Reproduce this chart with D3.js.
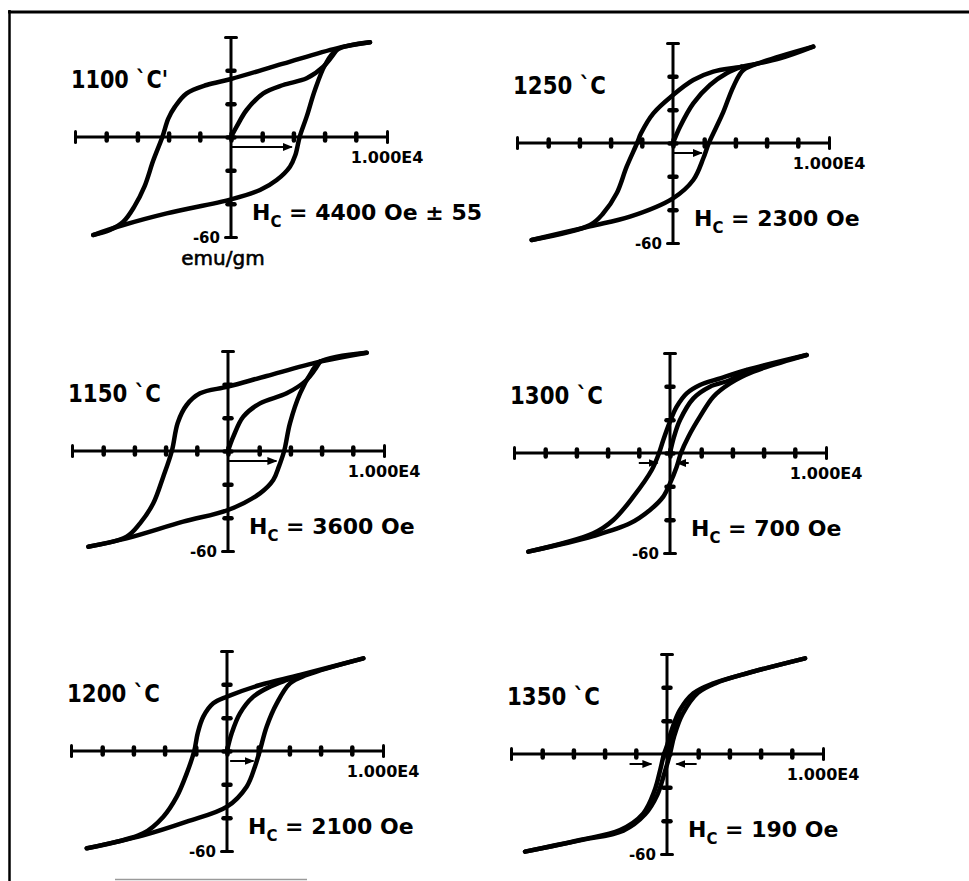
<!DOCTYPE html>
<html>
<head>
<meta charset="utf-8">
<script src="https://cdn.jsdelivr.net/npm/d3@7"></script>
<style>
  html, body { margin: 0; padding: 0; background: #fff; }
  svg { display: block; }
  text { font-family: "DejaVu Sans", sans-serif; font-weight: bold; fill: #000; }
</style>
</head>
<body>
<svg id="chart" width="969" height="881"></svg>
<script>
// Annealing temperatures and the coercive field measured at each one
const temperatures = [1100, 1150, 1200, 1250, 1300, 1350];
const temperatureLabels = ["1100 `C'", "1150 `C", "1200 `C", "1250 `C", "1300 `C", "1350 `C"];
const coercivityOe = [4400, 3600, 2100, 2300, 700, 190];
const coercivityNote = [" ± 55", "", "", "", "", ""];

// Axis ticks: applied field H (Oe) and magnetisation M (emu/gm)
const fieldTicks = [-10000, -8000, -6000, -4000, -2000, 0, 2000, 4000, 6000, 8000, 10000];
const momentTicks = [-60, -40, -20, 0, 20, 40, 60];
const fieldEndLabel = "1.000E4";
const momentEndLabel = "-60";
const momentUnit = "emu/gm";

// Hysteresis branches as [H (Oe), M (emu/gm)]:
// descending branch (+Hmax -> -Hmax), ascending branch (-Hmax -> +Hmax), virgin curve from the origin
const down1100 = [[8910, 56.8], [6770, 53.2], [3350, 44], [0, 34.8], [-1560, 31.2], [-2840, 26.2], [-3590, 18.2], [-4020, 11], [-4400, 0], [-4980, -14], [-5550, -29.8], [-6200, -41.8], [-6900, -50.8], [-7760, -55.8], [-8830, -58.8]];
const up1100 = [[-8830, -58.8], [-6900, -52.8], [-4120, -45.8], [0, -37.4], [1860, -31.8], [2930, -25.8], [3780, -17.8], [4120, -11], [4400, 0], [4850, 12.2], [5380, 28.2], [6030, 43.2], [6770, 52.2], [8910, 56.8]];
const virgin1100 = [[0, 0], [360, 6.2], [1000, 16.2], [2070, 26.2], [3350, 31.2], [4850, 35.2], [5920, 42.2], [6770, 52.2]];

const down1150 = [[8890, 59], [5900, 53.6], [2480, 45], [0, 38.6], [-1790, 34.6], [-2650, 27.6], [-3220, 17], [-3600, 0], [-4150, -15.4], [-4790, -31.4], [-5640, -43.4], [-6500, -51.4], [-8950, -57.4]];
const up1150 = [[-8950, -57.4], [-6500, -52.4], [-2870, -42.4], [0, -35.4], [2050, -25.4], [2900, -17.4], [3260, -9.4], [3600, 0], [3970, 16.6], [4620, 34.6], [5370, 47.6], [5900, 53.6], [8890, 59]];
const virgin1150 = [[0, 0], [340, 8.6], [980, 20.6], [2050, 28.6], [3760, 34.6], [5040, 42.6], [5900, 53.6]];

const down1200 = [[8740, 55.6], [4680, 45.6], [2120, 39.6], [0, 32.6], [-880, 28.6], [-1520, 20.6], [-1880, 10.6], [-2100, 0], [-2580, -13.4], [-3220, -27.4], [-4080, -39.4], [-5370, -49.4], [-8990, -58.4]];
const up1200 = [[-8990, -58.4], [-5370, -50.6], [-2580, -42.4], [0, -33.4], [1260, -21.4], [1790, -9.4], [2100, 0], [2540, 14.6], [3190, 28.6], [4040, 40.6], [5110, 45.6], [8740, 55.6]];
const virgin1200 = [[0, 0], [300, 10.6], [830, 22.6], [1690, 32.6], [2760, 38.6], [3830, 42.6], [4680, 45.4]];

const down1250 = [[8990, 57.8], [6860, 50.8], [4400, 45.8], [2580, 42.8], [1300, 37.8], [0, 28.8], [-1260, 17.8], [-2050, 5.8], [-2300, 0], [-2970, -14.2], [-3610, -30.2], [-4470, -42.2], [-5320, -49.2], [-9060, -58.2]];
const up1250 = [[-9060, -58.2], [-5320, -50], [-2760, -44.2], [0, -33.2], [1300, -22.2], [1950, -9], [2300, 0], [2750, 9], [3220, 18.5], [3870, 33.8], [4510, 43.8], [5790, 48.8], [8990, 57.8]];
const virgin1250 = [[0, 0], [450, 9.8], [1300, 23.8], [2370, 34.8], [3440, 41.8], [4400, 45.8]];

const down1300 = [[8760, 58.8], [4910, 49.8], [3210, 44.8], [1920, 40.8], [1070, 35.8], [430, 27.8], [0, 18.8], [-430, 7.8], [-700, 0], [-1170, -10.2], [-2350, -26.2], [-3630, -40.2], [-4920, -48.2], [-9080, -59.2]];
const up1300 = [[-9080, -59.2], [-4920, -49.8], [-2560, -42.2], [-1280, -34.2], [-430, -26.2], [0, -18.2], [430, -8.2], [700, 0], [1180, 9.8], [1920, 21.8], [2780, 33.8], [3850, 41.8], [5340, 48.8], [8760, 58.8]];
const virgin1300 = [[0, 0], [260, 9.8], [640, 19.8], [1500, 32.8], [2560, 39.8], [3850, 43.8], [4910, 49.8]];

const down1350 = [[8850, 57.4], [5110, 48.4], [2970, 42.4], [1690, 36.4], [830, 26.4], [300, 14.4], [0, 5], [-190, 0], [-420, -9], [-800, -22], [-1520, -35.6], [-3010, -45.6], [-5580, -51.6], [-9100, -58.6]];
const up1350 = [[-9100, -58.6], [-5580, -51.8], [-2800, -46], [-1400, -36.2], [-620, -24.5], [-150, -11], [190, 0], [470, 11], [1000, 24], [2000, 36.8], [3100, 42.4], [5200, 48.6], [8850, 57.4]];
const virgin1350 = [[0, 0], [150, 7], [400, 15], [800, 23.5]];

// Coercivity markers drawn just under the field axis: [from H, to H] per arrow
const markers1100 = [[0, 3900]];
const markers1150 = [[0, 3100]];
const markers1200 = [[200, 1700]];
const markers1250 = [[0, 1850]];
const markers1300 = [[-2000, -800], [1200, 450]];
const markers1350 = [[-2400, -1000], [1900, 600]];

const loops = [
  { down: down1100, up: up1100, virgin: virgin1100, markers: markers1100 },
  { down: down1150, up: up1150, virgin: virgin1150, markers: markers1150 },
  { down: down1200, up: up1200, virgin: virgin1200, markers: markers1200 },
  { down: down1250, up: up1250, virgin: virgin1250, markers: markers1250 },
  { down: down1300, up: up1300, virgin: virgin1300, markers: markers1300 },
  { down: down1350, up: up1350, virgin: virgin1350, markers: markers1350 }
];

// Page layout: origin of each small plot (left column, then right column)
const origins = [[231, 137], [228, 451], [227, 751], [673, 143], [670, 453], [667, 754]];
const halfW = 156, halfH = 100;

const svg = d3.select("#chart");

// Frame lines
svg.append("line").attr("x1", 9.5).attr("y1", 10).attr("x2", 9.5).attr("y2", 881)
  .attr("stroke", "#000").attr("stroke-width", 2.5);
svg.append("line").attr("x1", 8).attr("y1", 12).attr("x2", 969).attr("y2", 12)
  .attr("stroke", "#000").attr("stroke-width", 3);
svg.append("line").attr("x1", 115).attr("y1", 879.5).attr("x2", 307).attr("y2", 879.5)
  .attr("stroke", "#9a9a9a").attr("stroke-width", 1.5);

// Arrowhead marker
svg.append("defs").append("marker")
  .attr("id", "arrow").attr("viewBox", "0 0 10 8").attr("refX", 9).attr("refY", 4)
  .attr("markerWidth", 10).attr("markerHeight", 8).attr("markerUnits", "userSpaceOnUse")
  .attr("orient", "auto")
  .append("path").attr("d", "M0,0 L10,4 L0,8 Z").attr("fill", "#000");

temperatures.forEach((t, i) => {
  const [cx, cy] = origins[i];
  const x = d3.scaleLinear().domain([-10000, 10000]).range([cx - halfW, cx + halfW]);
  const y = d3.scaleLinear().domain([-60, 60]).range([cy + halfH, cy - halfH]);
  const g = svg.append("g");

  // Field axis through M = 0
  const xAxis = d3.axisBottom(x).tickValues(fieldTicks).tickFormat("").tickSizeOuter(0);
  const gx = g.append("g").attr("transform", `translate(0,${y(0)})`).call(xAxis);
  gx.select(".domain").attr("stroke-width", 3).attr("d", `M${x(-10000)},0H${x(10000)}`);
  gx.selectAll(".tick line")
    .attr("y1", d => (Math.abs(d) === 10000 ? -5.5 : -3.5))
    .attr("y2", d => (Math.abs(d) === 10000 ? 5.5 : 3.5))
    .attr("stroke-width", d => (Math.abs(d) === 10000 ? 3 : 4.5))
    .attr("stroke-linecap", "round");

  // Moment axis through H = 0
  const yAxis = d3.axisLeft(y).tickValues(momentTicks).tickFormat("").tickSizeOuter(0);
  const gy = g.append("g").attr("transform", `translate(${x(0)},0)`).call(yAxis);
  gy.select(".domain").attr("stroke-width", 3).attr("d", `M0,${y(60)}V${y(-60)}`);
  gy.selectAll(".tick line")
    .attr("x1", d => (Math.abs(d) === 60 ? -5.5 : -3.5))
    .attr("x2", d => (Math.abs(d) === 60 ? 5.5 : 3.5))
    .attr("stroke-width", d => (Math.abs(d) === 60 ? 3 : 4.5))
    .attr("stroke-linecap", "round");

  // Hysteresis loop
  const line = d3.line().x(d => x(d[0])).y(d => y(d[1])).curve(d3.curveCatmullRom.alpha(0.5));
  const loop = loops[i];
  [loop.down, loop.up, loop.virgin].forEach(branch => {
    g.append("path").attr("d", line(branch))
      .attr("fill", "none").attr("stroke", "#000").attr("stroke-width", 4.5)
      .attr("stroke-linecap", "round").attr("stroke-linejoin", "round");
  });

  // Coercivity arrows
  loop.markers.forEach(([a, b]) => {
    g.append("line").attr("x1", x(a)).attr("x2", x(b))
      .attr("y1", y(0) + 10).attr("y2", y(0) + 10)
      .attr("stroke", "#000").attr("stroke-width", 2).attr("marker-end", "url(#arrow)");
  });

  // Axis end labels
  g.append("text").attr("x", x(10000)).attr("y", y(0) + 26)
    .attr("text-anchor", "middle").style("font-size", "16px").text(fieldEndLabel);
  g.append("text").attr("x", x(0) - 11).attr("y", y(-60) + 6)
    .attr("text-anchor", "end").style("font-size", "15px").text(momentEndLabel);

  // Temperature label
  g.append("text").attr("x", cx - 160).attr("y", cy - 49)
    .style("font-size", "24px")
    .attr("textLength", i === 0 ? 97 : 93).attr("lengthAdjust", "spacingAndGlyphs")
    .text(temperatureLabels[i]);

  // Coercivity label
  const hc = g.append("text").attr("x", cx + 21).attr("y", cy + 83).style("font-size", "22px");
  hc.append("tspan").text("H");
  hc.append("tspan").attr("dy", 7).style("font-size", "15px").text("C");
  hc.append("tspan").attr("dy", -7).text(` = ${coercivityOe[i]} Oe${coercivityNote[i]}`);

  if (i === 0) {
    g.append("text").attr("x", x(0) - 8).attr("y", y(-60) + 28)
      .attr("text-anchor", "middle").style("font-size", "20px").style("font-weight", "normal")
      .attr("stroke", "#000").attr("stroke-width", 0.6).text(momentUnit);
  }
});
</script>
</body>
</html>
